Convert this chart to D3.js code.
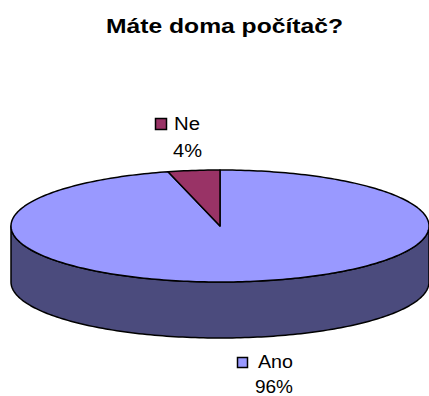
<!DOCTYPE html>
<html>
<head>
<meta charset="utf-8">
<script src="https://cdn.jsdelivr.net/npm/d3@7"></script>
<style>
  body { margin: 0; background: #fff; }
  svg { display: block; font-family: "Liberation Sans", Arial, sans-serif; }
</style>
</head>
<body>
<svg width="429" height="396"></svg>
<script>
const width = 429, height = 396;

const categories = ["Ano", "Ne"];
const values = [96, 4];
const colors = ["#9999FF", "#993366"];
const sideColors = ["#4B4B7D", "#5E2040"];

// ellipse geometry of the tilted pie
const cx = 220, cy = 226, rx = 209, ry = 56, depth = 56;

const svg = d3.select("svg");

// the original chart is stretched horizontally, so text is stretched too
svg.append("text")
  .attr("x", 106).attr("y", 33)
  .attr("font-size", "20px")
  .attr("font-weight", "bold")
  .attr("textLength", 237)
  .attr("lengthAdjust", "spacingAndGlyphs")
  .text("Máte doma počítač?");

const pie = d3.pie().sort(null).value(d => d.value);
const arcs = pie(categories.map((c, i) => ({ label: c, value: values[i], color: colors[i], side: sideColors[i] })));

// angle 0 = top (back) of the ellipse, clockwise
const px = a => cx + rx * Math.sin(a);
const py = a => cy - ry * Math.cos(a);

function arcPoints(a0, a1, dy) {
  const n = Math.max(2, Math.ceil(Math.abs(a1 - a0) / 0.02));
  return d3.range(n + 1).map(i => {
    const a = a0 + (a1 - a0) * i / n;
    return [px(a), py(a) + dy];
  });
}

const line = d3.line();

// side walls: visible front part is angles between PI/2 and 3PI/2
arcs.forEach(d => {
  const a0 = Math.max(d.startAngle, Math.PI / 2);
  const a1 = Math.min(d.endAngle, 3 * Math.PI / 2);
  if (a1 <= a0) return;
  const top = arcPoints(a0, a1, 0);
  const bottom = arcPoints(a1, a0, depth);
  svg.append("path")
    .attr("d", line(top.concat(bottom)) + "Z")
    .attr("fill", d.data.side)
    .attr("stroke", "#000")
    .attr("stroke-width", 1.5)
    .attr("stroke-linejoin", "round");
});

// top faces
arcs.forEach(d => {
  const pts = [[cx, cy]].concat(arcPoints(d.startAngle, d.endAngle, 0));
  svg.append("path")
    .attr("d", line(pts) + "Z")
    .attr("fill", d.data.color)
    .attr("stroke", "#000")
    .attr("stroke-width", 1.5)
    .attr("stroke-linejoin", "round");
});

// labels: legend key + name, percentage below
const labelPos = {
  "Ano": { box: [237.5, 357.5, 10], name: [258, 368, 35], pct: [255, 393, 38] },
  "Ne":  { box: [155.5, 118.5, 11], name: [174, 130, 26], pct: [173, 157, 29] }
};
arcs.forEach(d => {
  const p = labelPos[d.data.label];
  svg.append("rect")
    .attr("x", p.box[0]).attr("y", p.box[1])
    .attr("width", p.box[2]).attr("height", p.box[2])
    .attr("fill", d.data.color)
    .attr("stroke", "#000").attr("stroke-width", 1.5);
  svg.append("text")
    .attr("x", p.name[0]).attr("y", p.name[1])
    .attr("font-size", "18px")
    .attr("textLength", p.name[2])
    .attr("lengthAdjust", "spacingAndGlyphs")
    .text(d.data.label);
  const pct = Math.round(100 * d.value / d3.sum(values)) + "%";
  svg.append("text")
    .attr("x", p.pct[0]).attr("y", p.pct[1])
    .attr("font-size", "18px")
    .attr("textLength", p.pct[2])
    .attr("lengthAdjust", "spacingAndGlyphs")
    .text(pct);
});
</script>
</body>
</html>
